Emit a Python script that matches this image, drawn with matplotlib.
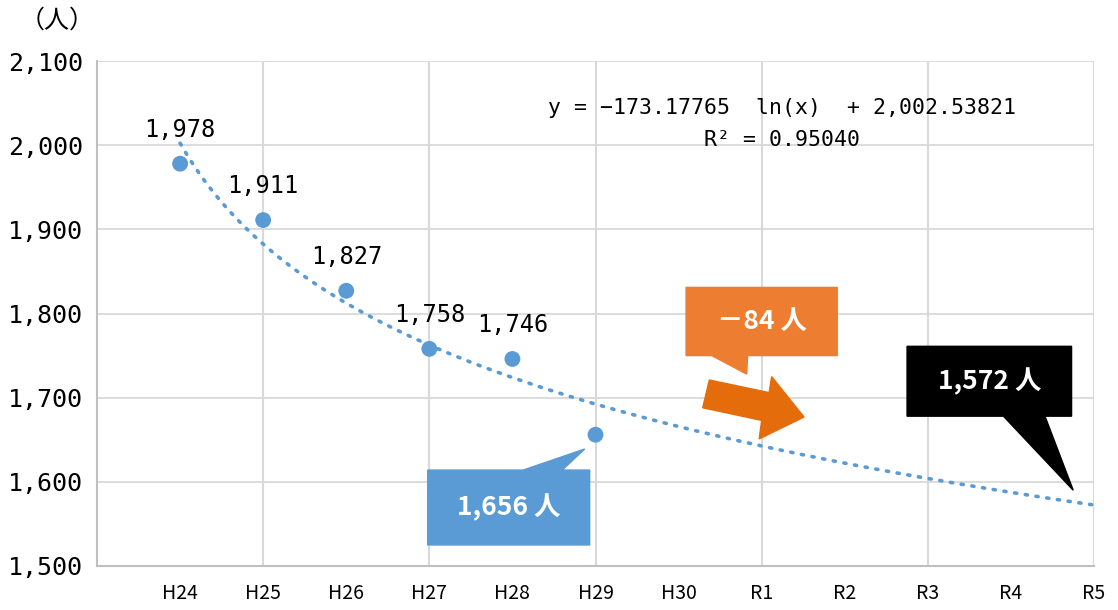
import numpy as np
import matplotlib
matplotlib.use("Agg")
import matplotlib.pyplot as plt
from matplotlib.patches import Polygon

plt.rcParams['font.family'] = ['Noto Sans CJK JP', 'DejaVu Sans']
MONO = ['DejaVu Sans Mono', 'Noto Sans CJK JP']

# data
years = ['H24', 'H25', 'H26', 'H27', 'H28', 'H29', 'H30', 'R1', 'R2', 'R3', 'R4', 'R5']
actual = [1978, 1911, 1827, 1758, 1746, 1656]
point_labels = ['1,978', '1,911', '1,827', '1,758', '1,746']
eq_text = 'y = −173.17765  ln(x)  + 2,002.53821'
r2_text = 'R² = 0.95040'

blue = '#5b9bd5'
grid_c = '#d9d9d9'

fig = plt.figure(figsize=(11.18, 6.10), dpi=100)
ax = fig.add_axes([97 / 1118, 1 - 566 / 610, (1094 - 97) / 1118, (566 - 61) / 610])

x_act = np.arange(1, len(actual) + 1)
x_all = np.arange(1, len(years) + 1)

# log trendline fitted to the observed values
a, b = np.polyfit(np.log(x_act), actual, 1)
xt = np.linspace(1, len(years), 300)
ax.plot(xt, a * np.log(xt) + b, color=blue, lw=2.6, linestyle=(0, (0.6, 2.4)),
        dash_capstyle='round', zorder=3)

ax.scatter(x_act, actual, s=130, color=blue, zorder=4, edgecolors='none')

for xi, yi, lab in zip(x_act[:5], actual[:5], point_labels):
    ax.text(xi, yi + 26, lab, ha='center', va='bottom', fontsize=17,
            family=MONO, color='black')

ax.set_xlim(0, len(years))
ax.set_ylim(1500, 2100)
ax.set_xticks(x_all)
ax.set_xticklabels(years, fontsize=14)
ax.set_yticks(np.arange(1500, 2101, 100))
ax.set_yticklabels([f'{v:,}' for v in range(1500, 2101, 100)], fontsize=18, family=MONO)
ax.tick_params(length=0, pad=12)
ax.tick_params(axis='y', pad=10)

# gridlines: horizontal every 100, vertical every second category
for v in range(1600, 2101, 100):
    ax.axhline(v, color=grid_c, lw=1.3, zorder=1)
for v in range(2, len(years) + 1, 2):
    ax.axvline(v, color=grid_c, lw=1.5, zorder=1)
for s in ['top', 'right']:
    ax.spines[s].set_visible(False)
for s in ['left', 'bottom']:
    ax.spines[s].set_color('#bfbfbf')
    ax.spines[s].set_linewidth(1.5)

fig.text(20 / 1118, 1 - 21 / 610, '（人）', fontsize=18, va='center', ha='left')

ax.text(8.25, 2044, eq_text, ha='center', va='center', fontsize=15.5, family=MONO)
ax.text(8.25, 2006, r2_text, ha='center', va='center', fontsize=15.5, family=MONO)

# callouts
blue_box = [(3.98, 1525), (5.93, 1525), (5.93, 1614), (5.6, 1614), (5.87, 1639),
            (5.13, 1614), (3.98, 1614)]
ax.add_patch(Polygon(blue_box, closed=True, color=blue, zorder=5))
ax.text(4.95, 1569, '1,656 人', color='white', fontsize=19, fontweight='bold',
        ha='center', va='center', zorder=6)

orange_box = [(7.09, 1750), (7.4, 1750), (7.82, 1728), (7.83, 1750), (8.91, 1750),
              (8.91, 1831), (7.09, 1831)]
ax.add_patch(Polygon(orange_box, closed=True, color='#ed7d31', zorder=5))
ax.text(8.0, 1791, '－84 人', color='white', fontsize=19, fontweight='bold',
        ha='center', va='center', zorder=6)

arrow = [(7.37, 1721), (7.29, 1688), (8.0, 1673), (7.97, 1651), (8.51, 1677),
         (8.12, 1725), (8.09, 1706)]
ax.add_patch(Polygon(arrow, closed=True, color='#e46c0a', zorder=5))

black_box = [(9.75, 1678), (10.91, 1678), (11.75, 1590), (11.41, 1678), (11.73, 1678),
             (11.73, 1761), (9.75, 1761)]
ax.add_patch(Polygon(black_box, closed=True, color='black', zorder=5))
ax.text(10.74, 1719, '1,572 人', color='white', fontsize=19, fontweight='bold',
        ha='center', va='center', zorder=6)

fig.savefig('out.png', dpi=100)
